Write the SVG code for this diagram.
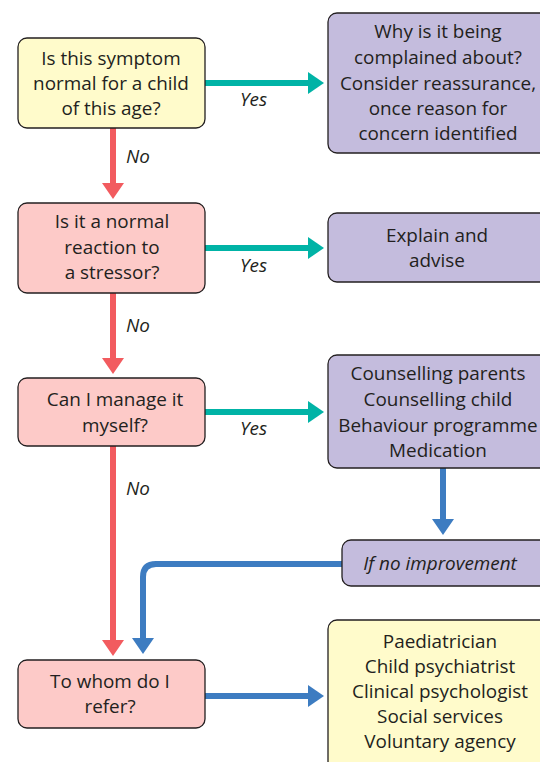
<svg xmlns="http://www.w3.org/2000/svg" width="540" height="762" viewBox="0 0 540 762">
<style>
.box{stroke:#231f20;stroke-width:1.3}
.y{fill:#fffbcb}
.p{fill:#fdcac8}
.v{fill:#c4bcdd}
text{font-family:"Open Sans","Liberation Sans",sans-serif;font-size:18.9px;fill:#231f20;text-anchor:middle}
.lbl{font-style:italic;text-anchor:start}
.teal{stroke:#00b3a6;stroke-width:6;fill:none}
.red{stroke:#f25b5f;stroke-width:6;fill:none}
.blue{stroke:#3d7cc1;stroke-width:6;fill:none}
</style>
<defs>
<marker id="ht" markerUnits="userSpaceOnUse" markerWidth="16" markerHeight="22" refX="0" refY="11" orient="auto"><path d="M0,0 L16,11 L0,22 Z" fill="#00b3a6"/></marker>
<marker id="hr" markerUnits="userSpaceOnUse" markerWidth="16" markerHeight="22" refX="0" refY="11" orient="auto"><path d="M0,0 L16,11 L0,22 Z" fill="#f25b5f"/></marker>
<marker id="hb" markerUnits="userSpaceOnUse" markerWidth="16" markerHeight="22" refX="0" refY="11" orient="auto"><path d="M0,0 L16,11 L0,22 Z" fill="#3d7cc1"/></marker>
</defs>
<g id="connectors">
<path class="teal" d="M205,83 H308" marker-end="url(#ht)"/>
<path class="teal" d="M205,248 H308" marker-end="url(#ht)"/>
<path class="teal" d="M205,412 H308" marker-end="url(#ht)"/>
<path class="red" d="M113,128 V183" marker-end="url(#hr)"/>
<path class="red" d="M113,293 V358" marker-end="url(#hr)"/>
<path class="red" d="M113,446 V640" marker-end="url(#hr)"/>
<path class="blue" d="M443,468 V519" marker-end="url(#hb)"/>
<path class="blue" d="M342,564 H156 Q143,564 143,577 V638" marker-end="url(#hb)"/>
<path class="blue" d="M205,696 H308" marker-end="url(#hb)"/>
<text class="lbl" x="240" y="106">Yes</text>
<text class="lbl" x="240" y="272">Yes</text>
<text class="lbl" x="240" y="435">Yes</text>
<text class="lbl" x="126" y="163">No</text>
<text class="lbl" x="126" y="332">No</text>
<text class="lbl" x="126" y="495">No</text>
</g>
<g id="q1">
<rect class="box y" x="18" y="38" width="187" height="90" rx="9"/>
<text x="111" y="65">Is this symptom</text>
<text x="111" y="90">normal for a child</text>
<text x="111" y="115">of this age?</text>
</g>
<g id="a1">
<rect class="box v" x="328" y="13" width="222" height="140" rx="9"/>
<text x="438" y="38">Why is it being</text>
<text x="438" y="64">complained about?</text>
<text x="438" y="90">Consider reassurance,</text>
<text x="438" y="115">once reason for</text>
<text x="438" y="140">concern identified</text>
</g>
<g id="q2">
<rect class="box p" x="18" y="203" width="187" height="90" rx="9"/>
<text x="112" y="228">Is it a normal</text>
<text x="112" y="254">reaction to</text>
<text x="112" y="279">a stressor?</text>
</g>
<g id="a2">
<rect class="box v" x="328" y="213" width="222" height="69" rx="9"/>
<text x="437" y="242">Explain and</text>
<text x="437" y="267">advise</text>
</g>
<g id="q3">
<rect class="box p" x="18" y="378" width="187" height="68" rx="9"/>
<text x="115" y="406">Can I manage it</text>
<text x="115" y="432">myself?</text>
</g>
<g id="a3">
<rect class="box v" x="328" y="355" width="222" height="113" rx="9"/>
<text x="438" y="380">Counselling parents</text>
<text x="438" y="406">Counselling child</text>
<text x="438" y="432">Behaviour programme</text>
<text x="438" y="457">Medication</text>
</g>
<g id="noimp">
<rect class="box v" x="342" y="540" width="208" height="46" rx="9"/>
<text x="440" y="570" style="font-style:italic">If no improvement</text>
</g>
<g id="q4">
<rect class="box p" x="18" y="660" width="187" height="68" rx="9"/>
<text x="110" y="688">To whom do I</text>
<text x="110" y="713">refer?</text>
</g>
<g id="a4">
<rect class="box y" x="328" y="620" width="222" height="150" rx="9"/>
<text x="440" y="648">Paediatrician</text>
<text x="440" y="673">Child psychiatrist</text>
<text x="440" y="698">Clinical psychologist</text>
<text x="440" y="723">Social services</text>
<text x="440" y="748">Voluntary agency</text>
</g>
</svg>
